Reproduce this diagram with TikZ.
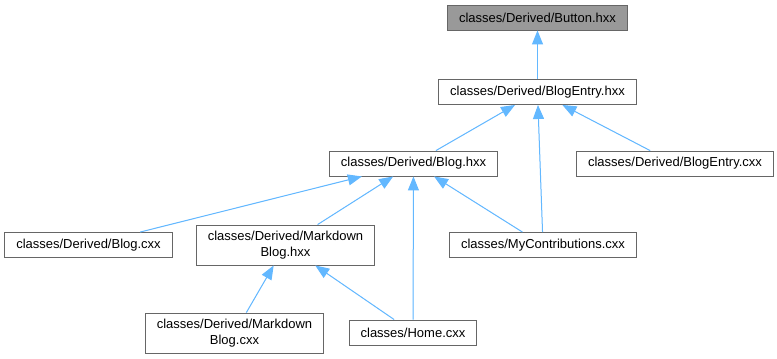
\documentclass[tikz,border=0pt]{standalone}
\usepackage{fontspec}
\setmainfont{Liberation Sans}
\usepackage{tikz}
\usetikzlibrary{arrows.meta, positioning}
\definecolor{edgeblue}{HTML}{63B8FF}
\definecolor{boxline}{HTML}{666666}
\definecolor{headfill}{HTML}{999999}
\tikzstyle{file} = [rectangle, minimum height=25pt, inner xsep=11.5pt, inner ysep=3pt, align=center, draw=boxline, line width=0.9pt, fill=white, font=\fontsize{13}{15.5}\selectfont]
\tikzstyle{twoline} = [file, minimum height=40pt]
\tikzstyle{header} = [file, fill=headfill]
\tikzstyle{dep} = [-{Triangle[length=14pt, width=11pt]}, draw=edgeblue, fill=edgeblue, line width=1pt]

\begin{document}
\begin{tikzpicture}[node distance=75pt]
\useasboundingbox [fill=white] (0,0) rectangle (777pt,-359pt);

% Header being included
\node (button) [header] at (537.5pt,-17.5pt) {classes/Derived/Button.hxx};

% Second row
\node (blogentryh) [file, below of=button, yshift=0.5pt] {classes/Derived/BlogEntry.hxx};

% Third row
\node (blogh) [file, below of=blogentryh, xshift=-124pt, yshift=3.5pt] {classes/Derived/Blog.hxx};
\node (blogentryc) [file, below of=blogentryh, xshift=137.5pt, yshift=3.5pt] {classes/Derived/BlogEntry.cxx};

% Fourth row
\node (blogc) [file, below of=blogh, xshift=-325pt, yshift=-6.5pt] {classes/Derived/Blog.cxx};
\node (mdblogh) [twoline, below of=blogh, xshift=-128pt, yshift=-6.5pt] {classes/Derived/Markdown\\Blog.hxx};
\node (mycontrib) [file, below of=blogh, xshift=129.5pt, yshift=-6.5pt] {classes/MyContributions.cxx};

% Bottom row
\node (mdblogc) [twoline, below of=mdblogh, xshift=-51pt, yshift=-13pt] {classes/Derived/Markdown\\Blog.cxx};
\node (home) [file, below of=mdblogh, xshift=127.5pt, yshift=-12.5pt] {classes/Home.cxx};

% Includes
\draw [dep] (blogentryh) -- (button);
\draw [dep] (blogh) -- (blogentryh);
\draw [dep] (mycontrib) -- (blogentryh);
\draw [dep] (blogentryc) -- (blogentryh);
\draw [dep] (blogc) -- (blogh);
\draw [dep] (mdblogh) -- (blogh);
\draw [dep] (home) -- (blogh);
\draw [dep] (mycontrib) -- (blogh);
\draw [dep] (mdblogc) -- (mdblogh);
\draw [dep] (home) -- (mdblogh);

\end{tikzpicture}
\end{document}
